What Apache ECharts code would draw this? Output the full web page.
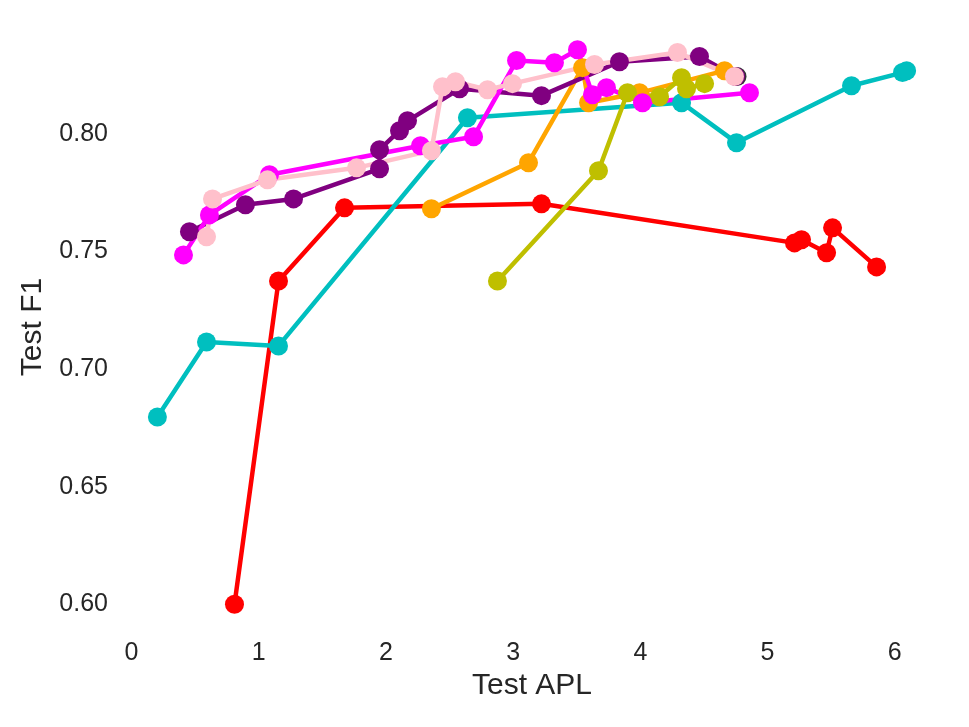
<!DOCTYPE html>
<html>

<head>
    <meta charset="utf-8">
    <title>Test APL vs Test F1</title>
    <style>
        html, body { margin: 0; padding: 0; background: #fff; }
    </style>
</head>

<body>
    <div id="main" style="width: 969px;height:727px;"></div>

    <script src="https://cdn.jsdelivr.net/npm/echarts@6/dist/echarts.min.js"></script>
    <script>
        // values
        var redX = [0.81, 1.156, 1.675, 3.223, 5.212, 5.267, 5.464, 5.511, 5.857];
        var redY = [0.600, 0.7374, 0.7685, 0.7702, 0.7536, 0.7549, 0.7494, 0.7600, 0.7434];

        var cyanX = [0.204, 0.59, 1.156, 2.641, 4.324, 4.756, 5.660, 6.061, 6.093];
        var cyanY = [0.6796, 0.7115, 0.7098, 0.8068, 0.8132, 0.7962, 0.8204, 0.8260, 0.8268];

        var orangeX = [2.358, 3.121, 3.546, 3.593, 3.994, 4.662];
        var orangeY = [0.7681, 0.7877, 0.8281, 0.8132, 0.8174, 0.8268];

        var oliveX = [2.877, 3.671, 3.899, 4.151, 4.324, 4.363, 4.505];
        var oliveY = [0.7374, 0.7843, 0.8174, 0.8157, 0.8238, 0.8191, 0.8213];

        var purpleX = [0.456, 0.896, 1.274, 1.950, 1.950, 2.107, 2.170, 2.579, 3.223, 3.836, 4.465, 4.748];
        var purpleY = [0.7583, 0.7698, 0.7723, 0.7851, 0.7932, 0.8013, 0.8055, 0.8191, 0.8162, 0.8306, 0.8328, 0.8243];

        var magentaX = [0.409, 0.613, 1.085, 2.272, 2.689, 3.027, 3.325, 3.506, 3.624, 3.734, 4.017, 4.858];
        var magentaY = [0.7485, 0.7655, 0.7826, 0.7949, 0.7987, 0.8311, 0.8302, 0.8357, 0.8166, 0.8196, 0.8132, 0.8174];

        var blackX = [4.760];
        var blackY = [0.8243];

        var pinkX = [0.590, 0.637, 1.069, 1.769, 2.358, 2.445, 2.547, 2.799, 2.995, 3.640, 4.292, 4.740];
        var pinkY = [0.7562, 0.7723, 0.7804, 0.7855, 0.7928, 0.8200, 0.8221, 0.8187, 0.8213, 0.8294, 0.8345, 0.8243];

        var xTicks = [0, 1, 2, 3, 4, 5, 6];
        var yTicks = [0.60, 0.65, 0.70, 0.75, 0.80];

        function pairs(xs, ys) {
            return xs.map(function (x, i) { return [x, ys[i]]; });
        }

        function lineSeries(name, color, xs, ys) {
            return {
                name: name,
                type: 'line',
                data: pairs(xs, ys),
                symbol: 'circle',
                symbolSize: 19,
                showSymbol: true,
                itemStyle: { color: color },
                lineStyle: { color: color, width: 4.5 },
                emphasis: { disabled: true }
            };
        }

        var textColor = '#262626';
        var font = 'Liberation Sans, Arial, sans-serif';

        var myChart = echarts.init(document.getElementById('main'));

        var option = {
            animation: false,
            backgroundColor: '#ffffff',
            grid: { left: 120, right: 25, top: 22, bottom: 95 },
            xAxis: {
                type: 'value',
                min: -0.09,
                max: 6.387,
                name: 'Test APL',
                nameLocation: 'middle',
                nameGap: 36,
                nameTextStyle: { color: textColor, fontSize: 30, fontFamily: font },
                axisLine: { show: false },
                axisTick: { show: false },
                splitLine: { show: false },
                axisLabel: {
                    customValues: xTicks,
                    color: textColor, fontSize: 25, fontFamily: font, margin: 9,
                    formatter: function (v) { return String(v); }
                }
            },
            yAxis: {
                type: 'value',
                min: 0.5882,
                max: 0.8475,
                name: 'Test F1',
                nameLocation: 'middle',
                nameGap: 72,
                nameTextStyle: { color: textColor, fontSize: 30, fontFamily: font },
                axisLine: { show: false },
                axisTick: { show: false },
                splitLine: { show: false },
                axisLabel: {
                    customValues: yTicks,
                    color: textColor, fontSize: 25, fontFamily: font, margin: 12,
                    formatter: function (v) { return v.toFixed(2); }
                }
            },
            series: [
                lineSeries('red', '#ff0000', redX, redY),
                lineSeries('cyan', '#00bfbf', cyanX, cyanY),
                lineSeries('orange', '#ffa500', orangeX, orangeY),
                lineSeries('olive', '#bfbf00', oliveX, oliveY),
                lineSeries('purple', '#800080', purpleX, purpleY),
                lineSeries('magenta', '#ff00ff', magentaX, magentaY),
                {
                    name: 'black',
                    type: 'scatter',
                    data: pairs(blackX, blackY),
                    symbol: 'circle',
                    symbolSize: 19,
                    itemStyle: { color: '#000000' },
                    emphasis: { disabled: true }
                },
                lineSeries('pink', '#ffc0cb', pinkX, pinkY)
            ]
        };

        myChart.setOption(option);
    </script>
</body>

</html>
